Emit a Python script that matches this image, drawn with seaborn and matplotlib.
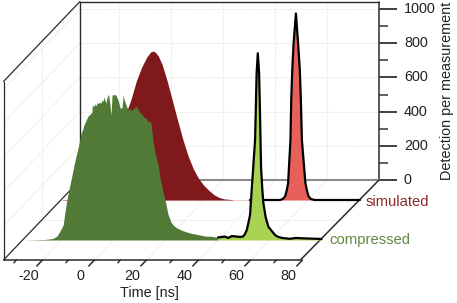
import matplotlib
matplotlib.use("Agg")
import matplotlib.pyplot as plt
import seaborn as sns
from matplotlib.transforms import Affine2D, ScaledTranslation

# ---- data ----
compressed_t = [-35.0, -26.35, -23.4, -21.8, -20.6, -19.4, -18.7, -18.0, -16.8, -15.2, -14.8, -13.4, -12.5,
                -11.9, -11.4, -10.6, -9.85, -9.1, -8.3, -8.2, -7.7, -7.15, -6.7, -6.35, -5.8, -5.3, -4.9, -4.5,
                -4.1, -3.7, -3.3, -2.95, -2.4, -1.9, -1.4, -1.0, -0.6, 0.2, 0.9, 1.3, 1.7, 2.1, 2.5, 3.2, 3.7,
                4.0, 4.35, 4.9, 5.55, 6.3, 7.05, 7.9, 8.65, 9.4, 10.15, 10.9, 11.7, 12.5, 13.2, 13.8, 14.4,
                15.1, 15.9, 17.1, 17.85, 19.0, 19.8, 20.9, 22.05, 23.0, 24.35, 26.5, 29.35, 32.0, 35.15, 37.5, 40.15]
compressed_v = [0, 3, 9, 23, 53, 88, 164, 234, 322, 439, 468, 556, 626,
                645, 673, 700, 725, 735, 749, 789, 780, 795, 785, 801, 800, 807, 798, 819,
                810, 836, 815, 801, 840, 851, 789, 731, 848, 850, 848, 832, 819, 795, 772, 772, 848,
                825, 807, 785, 760, 768, 760, 772, 784, 765, 743, 735, 719, 712, 690, 696, 684,
                585, 515, 439, 363, 281, 234, 152, 105, 86, 70, 55, 41, 33, 23, 22, 15]
compressed_peak_t = [40.15, 42.85, 44.0, 45.5, 48.6, 49.75, 50.5, 51.2, 51.9, 52.46, 53.1, 53.7, 54.4, 54.7, 55.0,
                     55.45, 55.95, 56.25, 56.5, 56.7, 57.2, 57.6, 58.45, 59.5, 60.8, 62.1, 63.3, 64.8, 67.8, 70.15,
                     72.4, 80.0]
compressed_peak_v = [15, 20, 12, 23, 18, 20, 35, 58, 105, 146, 292, 427, 585, 778, 977,
                     1092, 977, 778, 585, 427, 292, 216, 135, 78, 53, 29, 18, 12, 7, 12, 10, 6]
simulated_t = [-35, -32, -29, -26.5, -24, -22, -20, -18, -16, -14, -12, -10, -8, -6, -4, -2, -0.5, 0.4, 1.3,
               2.5, 4, 6, 8, 10, 12, 14, 16, 18, 20, 22, 24, 26, 28, 31]
simulated_v = [0, 3, 14, 35, 70, 105, 150, 215, 295, 375, 455, 505, 590, 695, 775, 835, 865, 871, 865,
               842, 790, 690, 575, 460, 350, 255, 180, 125, 85, 55, 30, 14, 6, 2]
simulated_peak_t = [37.7, 49.2, 50.4, 51.3, 51.9, 52.4, 53.3, 53.6, 54.0, 54.5, 55.4, 56.25, 56.9, 57.3, 57.7,
                    59.05, 59.6, 60.2, 61.1, 62.6, 80.0]
simulated_peak_v = [0, 0, 6, 23, 58, 99, 351, 585, 760, 914, 1091, 914, 760, 585, 351, 99, 58, 23, 6, 0, 0]

x_major = [-20, 0, 20, 40, 60, 80]
x_minor = [-30, -10, 10, 30, 50, 70]
y_major = [0, 200, 400, 600, 800, 1000]
y_minor = [100, 300, 500, 700, 900]
series_labels = ["simulated", "compressed"]

DARK_RED, RED = "#7f191b", "#e7615a"
DARK_GREEN, LIGHT_GREEN = "#517a36", "#a9d152"
GRID, FRAME = "#ededed", "#2b2b2b"

sns.set_theme(style="white")
plt.rcParams["font.family"] = ["Liberation Sans", "DejaVu Sans"]
W, H = 457, 303
fig = plt.figure(figsize=(W / 100, H / 100), dpi=100)
ax = fig.add_axes([80 / W, (H - 180) / H, 299 / W, 178.5 / H])
ax.set_xlim(-35, 80)
ax.set_ylim(0, 178.5 / 0.171)
ax.autoscale(False)
ax.patch.set_alpha(0)

DX, DY = 76.5, 80.0
px_t, px_v = 299 / 115, 0.171
x00, y00 = ax.transData.transform((0, 0))


def layer(d):
    return ax.transData + Affine2D().translate(-DX * d, -DY * d)


floor = Affine2D.from_values(px_t, 0, -DX, -DY, x00, y00)     # (time, depth)
wall = Affine2D.from_values(-DX, -DY, 0, px_v, 80, y00)       # (depth, value)


def seg(xs, ys, tr, color, lw, z=1, **kw):
    ax.plot(xs, ys, transform=tr, color=color, lw=lw, zorder=z, clip_on=False, **kw)


# grids
grid_kw = dict(ls=(0, (2, 0.6)))
for t in x_major[:-1]:
    seg([t, t], [0, 178.5 / px_v], ax.transData, GRID, 0.8, **grid_kw)
    seg([t, t], [0, 1], floor, GRID, 0.8, **grid_kw)
for v in y_major[1:]:
    seg([-35, 80], [v, v], ax.transData, GRID, 0.8, **grid_kw)
    seg([0, 1], [v, v], wall, GRID, 0.8, **grid_kw)
seg([-35, 80], [0.5, 0.5], floor, GRID, 0.8, **grid_kw)
seg([0.5, 0.5], [0, 178.5 / px_v], wall, GRID, 0.8, **grid_kw)

# box
vtop = 178.5 / px_v
seg([-35, 80], [vtop, vtop], ax.transData, FRAME, 1.0, 2)
seg([-35, -35], [0, vtop], ax.transData, FRAME, 1.0, 2)
seg([80, 80], [0, vtop], ax.transData, FRAME, 1.1, 2)
seg([-35, 80], [0, 0], ax.transData, "#8a8a8a", 1.5, 2)
seg([0, 1], [vtop, vtop], wall, FRAME, 0.9, 2)
seg([1, 1], [0, vtop], wall, FRAME, 0.9, 2)
seg([0, 1], [0, 0], wall, FRAME, 0.9, 2)
seg([-35, 79.2], [1, 1], floor, FRAME, 1.1, 2)
ax.plot([80, 79.2], [0, 1], transform=floor, color=FRAME, lw=1.1, zorder=2, clip_on=False)

# simulated layer
tr = layer(0.25)
seg([-35, 38], [0, 0], tr, "#eccfcf", 0.8, 3)
ax.fill_between(simulated_t, 0, simulated_v, color=DARK_RED, lw=0, transform=tr, zorder=3, clip_on=False)
ax.fill_between(simulated_peak_t, 0, simulated_peak_v, color=RED, lw=0, transform=tr, zorder=3, clip_on=False)
sns.lineplot(x=simulated_peak_t, y=simulated_peak_v, ax=ax, color="black", lw=1.6, sort=False, errorbar=None,
             transform=tr, zorder=4, clip_on=False)

# compressed layer
tr = layer(0.75)
ax.fill_between(compressed_t, 0, compressed_v, color=DARK_GREEN, lw=0, transform=tr, zorder=5, clip_on=False)
ax.fill_between(compressed_peak_t, 0, compressed_peak_v, color=LIGHT_GREEN, lw=0, transform=tr, zorder=5, clip_on=False)
sns.lineplot(x=compressed_peak_t, y=compressed_peak_v, ax=ax, color="black", lw=1.6, sort=False, errorbar=None,
             transform=tr, zorder=6, clip_on=False)

# front time ticks
for t in x_major:
    seg([t, t], [1, 1.075], floor, FRAME, 1.1, 2)
    ax.text(t, 0, str(t), transform=layer(1) + Affine2D().translate(-14, -15.5), ha="center", va="center",
            fontsize=10.4, color="#222222")
for t in x_minor:
    seg([t, t], [1, 1.035], floor, FRAME, 1.0, 2)

# value axis on the right
ax.set_xticks([])
for s in ["left", "top", "bottom", "right"]:
    ax.spines[s].set_visible(False)
ax.yaxis.tick_right()
ax.set_yticks(y_major)
ax.set_yticks(y_minor, minor=True)
ax.tick_params(axis="y", which="major", right=True, length=13, width=1.3, color="#333333", pad=5,
               labelsize=10.4, labelcolor="#222222")
ax.tick_params(axis="y", which="minor", right=True, length=6.5, width=1.1, color="#333333")
ax.set_xlabel("")
ax.set_ylabel("")
lift = ScaledTranslation(0, 1.5 / 100, fig.dpi_scale_trans)
for lab in ax.get_yticklabels():
    lab.set_transform(lab.get_transform() + lift)

# series labels and axis titles
ax.text(366 / W, (H - 201.5) / H, series_labels[0], transform=fig.transFigure, color="#8b2a2c", fontsize=10.6,
        ha="left", va="center")
ax.text(329 / W, (H - 240) / H, series_labels[1], transform=fig.transFigure, color="#5f8b40", fontsize=10.7,
        ha="left", va="center")
fig.text(149 / W, (H - 293) / H, "Time [ns]", ha="center", va="center", fontsize=10.4, color="#222222")
fig.text(447 / W, (H - 91) / H, "Detection per measurement", rotation=90, ha="center", va="center",
         fontsize=10.4, color="#222222")

fig.savefig("out.png", dpi=100)
